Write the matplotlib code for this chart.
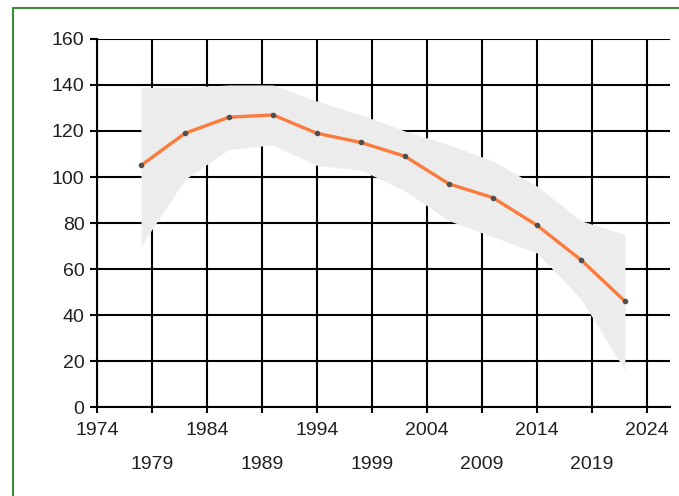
from matplotlib import pyplot as plt
from matplotlib.patches import Rectangle


YEARS = [1978, 1982, 1986, 1990, 1994, 1998, 2002, 2006, 2010, 2014, 2018, 2022]
VALUES = [105, 119, 126, 127, 119, 115, 109, 97, 91, 79, 64, 46]
UPPER = [139, 139, 140, 140, 133, 127, 120, 114, 107, 96, 81, 75]
LOWER = [70, 99, 112, 114, 105, 103, 94, 81, 74, 67, 47, 16]

MAJOR_TICKS = [1974, 1984, 1994, 2004, 2014, 2024]
MINOR_TICKS = [1979, 1989, 1999, 2009, 2019]
Y_TICKS = [0, 20, 40, 60, 80, 100, 120, 140, 160]


def plot():
    plt.rcParams['font.family'] = ['Liberation Sans', 'DejaVu Sans']
    fig = plt.figure(figsize=(6.79, 4.96), dpi=100)
    fig.patches.append(Rectangle((13 / 679, -0.1), 1.2, 1 - 8 / 496 + 0.1,
                                 transform=fig.transFigure, fill=False,
                                 edgecolor='#3d8b3d', linewidth=1.5))

    ax = fig.add_axes([97 / 679, 1 - 407 / 496, (670 - 97) / 679, (407 - 39) / 496])
    ax.set_axisbelow(True)

    ax.fill_between(YEARS, LOWER, UPPER, color='#ececec', linewidth=0, zorder=1)
    ax.plot(YEARS, VALUES, color='#fb7b3c', linewidth=2.4, zorder=3)
    ax.plot(YEARS, VALUES, linestyle='none', marker='o', markersize=3,
            color='#505050', zorder=4)

    ax.set_xlim(1974, 2026.1)
    ax.set_ylim(0, 160)
    ax.set_xticks(MAJOR_TICKS)
    ax.set_xticks(MINOR_TICKS, minor=True)
    ax.set_xticklabels([str(t) for t in MAJOR_TICKS])
    ax.set_xticklabels([str(t) for t in MINOR_TICKS], minor=True)
    ax.set_yticks(Y_TICKS)

    ax.grid(True, which='both', axis='x', color='black', linewidth=1.5)
    ax.grid(True, which='major', axis='y', color='black', linewidth=1.5)

    for side in ['top', 'right']:
        ax.spines[side].set_visible(False)
    for side in ['left', 'bottom']:
        ax.spines[side].set_linewidth(1.5)

    ax.tick_params(axis='y', which='major', length=5, width=1.5, pad=4,
                   labelsize=14, labelcolor='#202020')
    ax.tick_params(axis='x', which='major', length=4, width=1.5, pad=7,
                   labelsize=14, labelcolor='#202020')
    ax.tick_params(axis='x', which='minor', length=4, width=1.5, pad=31,
                   labelsize=14, labelcolor='#202020')

    fig.savefig('out.png', dpi=100)


def main():
    plot()


if __name__ == '__main__':
    main()
